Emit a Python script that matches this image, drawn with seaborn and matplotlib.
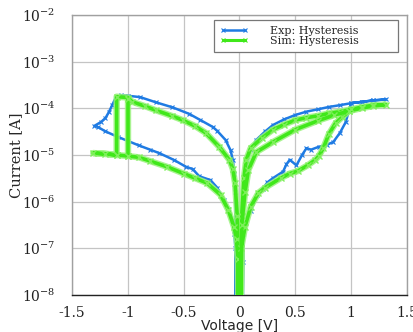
import numpy as np
import pandas as pd
import matplotlib
matplotlib.use("Agg")
import matplotlib.pyplot as plt
import seaborn as sns
from matplotlib.lines import Line2D
from matplotlib.ticker import MultipleLocator, LogLocator, LogFormatterMathtext, NullFormatter

# ---------------- data (Voltage [V], Current [A]) ----------------
# Experimental hysteresis, one continuous sweep
exp_V = [0.027, 0.03, 0.035, 0.05, 0.1, 0.16, 0.21, 0.25, 0.3, 0.39, 0.42, 0.45, 0.51, 0.56,
         0.6, 0.64, 0.71, 0.78, 0.84, 0.9, 0.95, 0.98,
         1.0, 1.1, 1.2, 1.31,
         1.2, 1.1, 1.0, 0.9, 0.8, 0.7, 0.6, 0.5, 0.4, 0.3, 0.23, 0.15, 0.1, 0.07, 0.05, 0.04, 0.035, 0.028,
         -0.035, -0.037, -0.045, -0.065, -0.1, -0.14, -0.2, -0.26, -0.36, -0.42, -0.48, -0.59, -0.72,
         -0.8, -0.9, -1.0, -1.09, -1.2, -1.27, -1.3,
         -1.24, -1.2, -1.17, -1.14, -1.11, -1.06, -1.0, -0.89, -0.75, -0.6, -0.45, -0.35, -0.24,
         -0.2, -0.125, -0.08, -0.06, -0.045, -0.038, -0.036, -0.035]
exp_I = [1e-9, 5e-8, 2e-7, 3.5e-7, 6.3e-7, 1.4e-6, 1.9e-6, 2.6e-6, 3.2e-6, 4.4e-6, 6.3e-6, 7.9e-6, 6.0e-6, 1.0e-5,
         1.4e-5, 1.3e-5, 1.5e-5, 1.65e-5, 1.9e-5, 3.0e-5, 5.0e-5, 8.9e-5,
         1.29e-4, 1.38e-4, 1.48e-4, 1.55e-4,
         1.48e-4, 1.38e-4, 1.29e-4, 1.17e-4, 1.07e-4, 9.5e-5, 8.5e-5, 7.2e-5, 5.8e-5, 4.4e-5, 3.2e-5, 2.1e-5, 1.3e-5, 7.9e-6, 4.0e-6, 1.8e-6, 2.5e-7, 1e-9,
         1e-9, 1e-7, 2e-7, 4.1e-7, 7.1e-7, 1.1e-6, 2.0e-6, 2.9e-6, 3.5e-6, 5.0e-6, 5.6e-6, 7.9e-6, 1.1e-5,
         1.3e-5, 1.6e-5, 2.0e-5, 2.45e-5, 3.2e-5, 4.0e-5, 4.2e-5,
         5.1e-5, 6.2e-5, 8.3e-5, 1.17e-4, 1.66e-4, 1.9e-4, 1.86e-4, 1.74e-4, 1.35e-4, 1.05e-4, 7.6e-5, 5.6e-5, 4.0e-5,
         3.3e-5, 2.1e-5, 1.26e-5, 7.9e-6, 4.0e-6, 1.6e-6, 3.2e-7, 1e-9]

# Simulated hysteresis, drawn as several sweep segments
sim_neg_lo_V = [-0.008, -0.012, -0.025, -0.05, -0.1, -0.17, -0.29, -0.4, -0.5, -0.65, -0.8, -0.9, -1.0, -1.1, -1.2, -1.31,
                -1.1, -1.1, -1.0, -0.96, -0.85, -0.75, -0.6, -0.51, -0.4, -0.3, -0.18, -0.09, -0.06, -0.04, -0.02, -0.008]
sim_neg_lo_I = [1e-9, 6e-8, 1.6e-7, 2.9e-7, 6.6e-7, 1.4e-6, 2.5e-6, 3.2e-6, 4.0e-6, 5.6e-6, 7.4e-6, 8.9e-6, 9.5e-6, 1.0e-5, 1.07e-5, 1.1e-5,
                1.0e-5, 1.78e-4, 1.70e-4, 1.38e-4, 1.12e-4, 9.1e-5, 6.8e-5, 5.6e-5, 4.2e-5, 2.95e-5, 1.48e-5, 7.8e-6, 5.0e-6, 2.5e-6, 5e-7, 1e-9]
sim_bar_V = [-1.0, -1.0]
sim_bar_I = [9.3e-6, 1.6e-4]
sim_pos_lo_V = [0.008, 0.015, 0.05, 0.1, 0.17, 0.23, 0.37, 0.45, 0.52, 0.61, 0.68, 0.71, 0.75, 0.8, 0.86, 0.92, 0.98,
                1.1, 1.2, 1.31,
                1.2, 1.1, 1.0, 0.9, 0.8, 0.7, 0.6, 0.5, 0.4, 0.3, 0.2, 0.1, 0.06, 0.04, 0.02, 0.008]
sim_pos_lo_I = [1e-9, 1e-7, 2.9e-7, 7.8e-7, 1.55e-6, 2.0e-6, 3.2e-6, 4.0e-6, 4.5e-6, 6.0e-6, 7.9e-6, 9.5e-6, 1.4e-5, 2.8e-5, 4.8e-5, 6.5e-5, 8.7e-5,
                1.02e-4, 1.12e-4, 1.2e-4,
                1.17e-4, 1.07e-4, 9.5e-5, 8.5e-5, 7.8e-5, 6.9e-5, 6.3e-5, 5.6e-5, 4.5e-5, 3.5e-5, 2.3e-5, 1.4e-5, 7.9e-6, 3.2e-6, 5e-7, 1e-9]
sim_pos_mid_V = [0.008, 0.02, 0.05, 0.08, 0.15, 0.3, 0.5, 0.7, 0.85, 0.98]
sim_pos_mid_I = [1e-9, 3.2e-7, 1.6e-6, 4.8e-6, 1.15e-5, 1.9e-5, 3.5e-5, 5.4e-5, 7.2e-5, 8.7e-5]

labels = ["Exp: Hysteresis", "Sim: Hysteresis"]
colors = {"Exp: Hysteresis": "#1f7be3", "Sim: Hysteresis": "#40e81a"}

rows = []
def add(series, seg, V, I):
    for k, (v, i) in enumerate(zip(V, I)):
        rows.append({"series": series, "seg": seg, "k": k, "V": v, "I": i})

add(labels[0], "e1", exp_V, exp_I)
add(labels[1], "s1", sim_neg_lo_V, sim_neg_lo_I)
add(labels[1], "s2", sim_bar_V, sim_bar_I)
add(labels[1], "s3", sim_pos_lo_V, sim_pos_lo_I)
add(labels[1], "s4", sim_pos_mid_V, sim_pos_mid_I)
df = pd.DataFrame(rows)
df_exp = df[df.series == labels[0]]
df_sim = df[df.series == labels[1]]

# ---------------- figure ----------------
sns.set_style("white")
plt.rcParams["font.family"] = ["DejaVu Serif"]
plt.rcParams["mathtext.fontset"] = "dejavuserif"
plt.rcParams["axes.unicode_minus"] = False

fig = plt.figure(figsize=(4.14, 3.32), dpi=100)
ax = fig.add_axes([72 / 414, 1 - 295 / 332, 335 / 414, 280 / 332])

cb = colors[labels[0]]
cg = colors[labels[1]]
sns.lineplot(data=df_exp, x="V", y="I", units="seg", estimator=None, sort=False,
             color=cb, lw=1.8, marker="x", ms=3, mew=0.8, mec=cb, mfc=cb,
             legend=False, ax=ax, zorder=3)
sns.lineplot(data=df_sim, x="V", y="I", units="seg", estimator=None, sort=False,
             color="#9af27e", lw=4.6, alpha=0.85, legend=False, ax=ax, zorder=4)
sns.lineplot(data=df_sim, x="V", y="I", units="seg", estimator=None, sort=False,
             color=cg, lw=2.6, marker="x", ms=4, mew=1.0, mec="#7ef05a", mfc=cg,
             legend=False, ax=ax, zorder=5)

ax.set_yscale("log")
ax.set_xlim(-1.5, 1.5)
ax.set_ylim(1e-8, 1e-2)
ax.xaxis.set_major_locator(MultipleLocator(0.5))
ax.xaxis.set_minor_locator(MultipleLocator(0.1))
ax.xaxis.set_major_formatter(matplotlib.ticker.FuncFormatter(lambda v, p: ("%g" % v)))
ax.yaxis.set_major_locator(LogLocator(base=10, numticks=20))
ax.yaxis.set_minor_locator(LogLocator(base=10, subs=np.arange(2, 10), numticks=20))
ax.yaxis.set_major_formatter(LogFormatterMathtext())
ax.yaxis.set_minor_formatter(NullFormatter())

ax.grid(True, which="major", color="#c4c4c4", lw=0.9)
ax.set_axisbelow(True)
for s in ["top", "right", "left"]:
    ax.spines[s].set_color("#a0a0a0")
ax.spines["bottom"].set_color("#222222")
for s in ax.spines.values():
    s.set_linewidth(1.0)

ax.tick_params(axis="x", which="major", direction="out", length=5, width=0.9, colors="#222222", labelsize=10, pad=3)
ax.tick_params(axis="x", which="minor", direction="out", length=2.5, width=0.7, colors="#222222")
ax.tick_params(axis="y", which="major", direction="out", length=10, width=0.9, colors="#222222", labelsize=10, pad=2)
ax.tick_params(axis="y", which="minor", direction="out", length=6, width=0.6, colors="#444444")
ax.tick_params(top=False, right=False)

ax.set_xlabel("Voltage [V]", fontsize=10, family="DejaVu Sans", labelpad=-0.5)
ax.set_ylabel("Current [A]", fontsize=10.5, labelpad=-1)

handles = [Line2D([], [], color=cb, lw=1.8, marker="x", ms=3, mew=0.8),
           Line2D([], [], color=cg, lw=2.2, marker="x", ms=3, mew=0.8)]
leg = ax.legend(handles, labels, loc="upper left",
                bbox_to_anchor=((214 - 72) / 335, (295 - 52) / 280, (398 - 214) / 335, 32 / 280),
                mode="expand", borderaxespad=0, fontsize=8, numpoints=2, fancybox=False,
                framealpha=1, edgecolor="#777777", handlelength=2.5, handletextpad=2.0,
                labelspacing=0.0, borderpad=0.55)
leg.get_frame().set_linewidth(0.9)
leg.set_zorder(10)

fig.savefig("out.png", dpi=100)
